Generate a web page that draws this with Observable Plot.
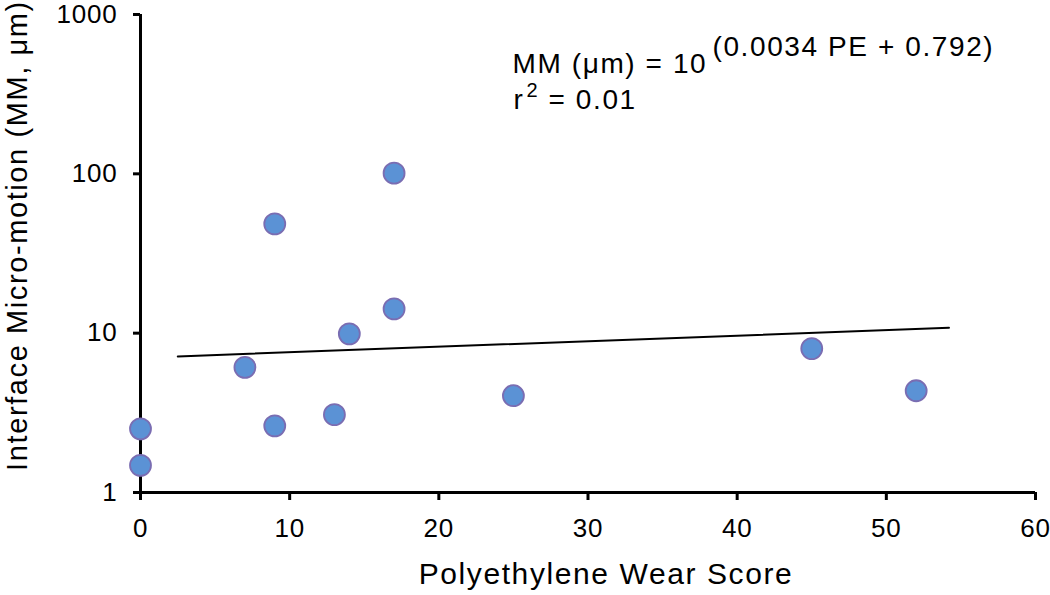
<!DOCTYPE html>
<html>
<head>
<meta charset="utf-8">
<script src="https://cdn.jsdelivr.net/npm/d3@7"></script>
<script src="https://cdn.jsdelivr.net/npm/@observablehq/plot@0.6"></script>
<style>
  html, body { margin: 0; padding: 0; background: #fff; }
  #chart svg { display: block; }
  #chart g[aria-label="text"] text { letter-spacing: 1.6px; }
  #chart g[aria-label$="tick label"] text { letter-spacing: 0.8px; }
</style>
</head>
<body>
<div id="chart"></div>
<script>
// Data
const wearScore = [0, 0, 7, 9, 9, 13, 14, 17, 17, 25, 45, 52];
const microMotion = [1.48, 2.51, 6.1, 2.62, 48.5, 3.08, 9.9, 14.2, 101, 4.05, 8.0, 4.35];
const trendPE = [2.5, 54.2];
const trendMM = [7.15, 10.8];
const xTicks = [0, 10, 20, 30, 40, 50, 60];
const yTicks = [1, 10, 100, 1000];
const xTitle = "Polyethylene Wear Score";
const yTitle = "Interface Micro-motion (MM, μm)";
const eqMain = "MM (μm) = 10";
const eqExp = "(0.0034 PE + 0.792)";

const points = wearScore.map((pe, i) => ({pe, mm: microMotion[i]}));
const trend = trendPE.map((pe, i) => ({pe, mm: trendMM[i]}));

const FONT = "Liberation Sans, Arial, Helvetica, sans-serif";

const chart = Plot.plot({
  width: 1050,
  height: 595,
  marginLeft: 140,
  marginRight: 15,
  marginTop: 14,
  marginBottom: 103,
  style: {fontFamily: FONT, color: "#000", background: "#fff"},
  x: {domain: [0, 60], ticks: xTicks, label: null},
  y: {type: "log", domain: [1, 1000], ticks: yTicks, label: null, tickFormat: d => String(d)},
  marks: [
    Plot.axisX({ticks: xTicks, tickSize: 8, tickPadding: 18, fontSize: 26, strokeWidth: 3, label: null}),
    Plot.axisY({ticks: yTicks, tickSize: 7, tickPadding: 16, fontSize: 26, strokeWidth: 3, label: null, tickFormat: d => String(d)}),
    Plot.ruleX([0], {y1: 1, y2: 1000, strokeWidth: 3}),
    Plot.ruleY([1], {x1: 0, x2: 60, strokeWidth: 3}),
    Plot.line(trend, {x: "pe", y: "mm", stroke: "#000", strokeWidth: 2}),
    Plot.dot(points, {x: "pe", y: "mm", r: 10.5, fill: "#5b92d5", stroke: "#7a6db2", strokeWidth: 1.8}),
    // axis titles
    Plot.text([xTitle], {frameAnchor: "bottom", dx: 18, dy: 91, lineAnchor: "bottom", textAnchor: "middle", fontSize: 30}),
    Plot.text([yTitle], {frameAnchor: "left", dx: -114, dy: -18, rotate: -90, lineAnchor: "bottom", textAnchor: "middle", fontSize: 29}),
    // equation annotation
    Plot.text([eqMain], {frameAnchor: "top-left", dx: 372, dy: 58, lineAnchor: "bottom", textAnchor: "start", fontSize: 28}),
    Plot.text([eqExp], {frameAnchor: "top-left", dx: 572, dy: 41, lineAnchor: "bottom", textAnchor: "start", fontSize: 28}),
    Plot.text(["r"], {frameAnchor: "top-left", dx: 373, dy: 94, lineAnchor: "bottom", textAnchor: "start", fontSize: 28}),
    Plot.text(["2"], {frameAnchor: "top-left", dx: 386, dy: 82, lineAnchor: "bottom", textAnchor: "start", fontSize: 20}),
    Plot.text(["= 0.01"], {frameAnchor: "top-left", dx: 408, dy: 94, lineAnchor: "bottom", textAnchor: "start", fontSize: 28})
  ]
});
document.getElementById("chart").appendChild(chart);
</script>
</body>
</html>
